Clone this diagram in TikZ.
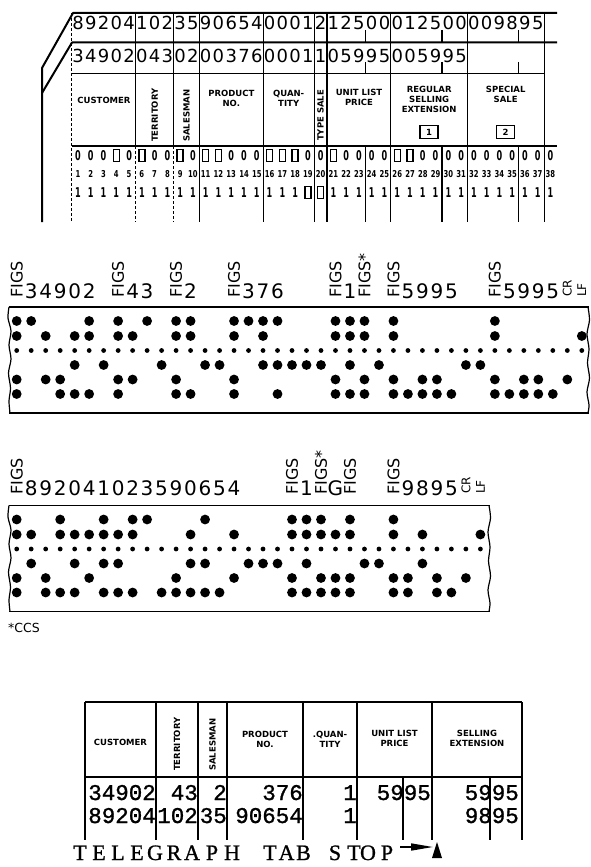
\documentclass[tikz,border=0pt]{standalone}
\usepackage{fontspec}
\usepackage{graphicx}
\setmainfont{DejaVu Sans}
\newfontfamily\lmono[FakeBold=1.2]{Liberation Mono}
\newfontfamily\lserif[FakeBold=1.0]{Liberation Serif}
\usetikzlibrary{arrows.meta}
\newcommand\tapeholes[3]{%
  \foreach \k in {1,...,#2}{\fill ({16.7+(\k-1)*14.49},{#1+43.5}) circle[radius=2.4];}%
  \foreach \pa/\pb/\pc/\pd/\pe [count=\k] in {#3}{%
    \pgfmathsetmacro\xx{16.7+(\k-1)*14.49}%
    \ifnum\pa=1 \fill (\xx,{#1+14}) circle[radius=4.9];\fi
    \ifnum\pb=1 \fill (\xx,{#1+29}) circle[radius=4.9];\fi
    \ifnum\pc=1 \fill (\xx,{#1+58}) circle[radius=4.9];\fi
    \ifnum\pd=1 \fill (\xx,{#1+72.5}) circle[radius=4.9];\fi
    \ifnum\pe=1 \fill (\xx,{#1+87}) circle[radius=4.9];\fi
  }%
}
\begin{document}
\begin{tikzpicture}[x=1pt,y=-1pt,
  edge/.style={line width=2pt,line join=round},
  thinl/.style={line width=1.1pt},
  tabl/.style={line width=1.8pt},
  carddig/.style={inner sep=0pt,anchor=base,font=\fontsize{18}{18}\selectfont},
  hdr/.style={inner sep=0pt,align=center,font=\bfseries\fontsize{8.5}{10}\selectfont},
  rhdr/.style={hdr,rotate=90,anchor=west},
  pdig/.style={inner sep=0pt,font=\bfseries\fontsize{13.5}{13.5}\selectfont},
  colnum/.style={inner sep=0pt,font=\bfseries\fontsize{9.5}{9.5}\selectfont},
  punch/.style={line width=1.5pt},
  tapelab/.style={inner sep=0pt,anchor=base,font=\fontsize{20}{20}\selectfont},
  figs/.style={inner sep=0pt,rotate=90,anchor=west,font=\fontsize{16}{16}\selectfont},
  crlf/.style={inner sep=0pt,rotate=90,anchor=west,font=\fontsize{12}{12}\selectfont},
  tabdig/.style={inner sep=0pt,anchor=base east,font=\lmono\fontsize{22.5}{22.5}\selectfont},
  teleg/.style={inner sep=0pt,anchor=base,font=\lserif\fontsize{22}{22}\selectfont},
  tapeedge/.style={line width=1.8pt},
  torn/.style={line width=1.2pt}
]
\useasboundingbox (0,0) rectangle (590,867);

% ================= punched card =================
\draw[edge] (557,13) -- (73,13) -- (42,68) -- (42,222);
\draw[edge] (557,42.5) -- (72,42.5) -- (42,93);
\draw[thinl,densely dashed] (71.6,13) -- (71.6,222);
\draw[thinl] (71.6,73.5) -- (544,73.5);
\draw[thinl] (71.6,146) -- (557,146);
\foreach \k in {5,8,10,15,19,20,25,31,37}
  \draw[thinl] ({78+(\k-0.5)*12.77},13) -- ({78+(\k-0.5)*12.77},146);
\foreach \k in {10,15,19,20,23,25,29,31,35,37}
  \draw[thinl] ({78+(\k-0.5)*12.77},146) -- ({78+(\k-0.5)*12.77},222);
\foreach \k in {5,8}
  \draw[thinl,densely dashed] ({78+(\k-0.5)*12.77},146) -- ({78+(\k-0.5)*12.77},222);
\foreach \k in {23,29,35}{
  \draw[thinl] ({78+(\k-0.5)*12.77},30) -- ({78+(\k-0.5)*12.77},42.5);
  \draw[thinl] ({78+(\k-0.5)*12.77},62) -- ({78+(\k-0.5)*12.77},73.5);
}
% card digits
\foreach \d [count=\i] in {8,9,2,0,4,1,0,2,3,5,9,0,6,5,4,0,0,0,1,2,1,2,5,0,0,0,1,2,5,0,0,0,0,9,8,9,5}
  \node[carddig] (bk\i) at ({78+(\i-1)*12.77},30) {\d};
\foreach \d [count=\i] in {3,4,9,0,2,0,4,3,0,2,0,0,3,7,6,0,0,0,1,1,0,5,9,9,5,0,0,5,9,9,5}
  \node[carddig] (fr\i) at ({78+(\i-1)*12.77},62.5) {\d};
% header labels
\node[hdr] (hcust) at (104,100) {CUSTOMER};
\node[rhdr] (hterr) at (154.7,142) {TERRITORY};
\node[rhdr] (hsales) at (186.6,142) {SALESMAN};
\node[hdr] (hprod) at (231.3,98) {PRODUCT\\NO.};
\node[hdr] (hqty) at (288.7,98) {QUAN-\\TITY};
\node[rhdr] (htype) at (320.6,141) {TYPE SALE};
\node[hdr] (hunit) at (359,97) {UNIT LIST\\PRICE};
\node[hdr] (hreg) at (429.2,99) {REGULAR\\SELLING\\EXTENSION};
\node[hdr] (hspec) at (505.7,94) {SPECIAL\\SALE};
\draw[punch] (420,125.5) rectangle (438,138.5);
\node[hdr] (box1) at (429,132) {1};
\draw[punch] (496.5,125.5) rectangle (514.5,138.5);
\node[hdr] (box2) at (505.5,132) {2};
% 0 row, numbers, 1 row
\foreach \i in {1,2,3,5,7,8,10,13,14,15,19,20,22,23,24,25,28,29,30,31,32,33,34,35,36,37,38}
  \node[pdig] (z\i) at ({78+(\i-1)*12.77},155.5) {\scalebox{0.6}[1]{0}};
\foreach \i in {4,6,9,11,12,16,17,18,21,26,27}
  \draw[punch] ({78+(\i-1)*12.77-3},149.5) rectangle ({78+(\i-1)*12.77+3},161.5);
\foreach \i in {1,...,38}
  \node[colnum] (n\i) at ({78+(\i-1)*12.77},174) {\scalebox{0.72}[1]{\i}};
\foreach \i in {1,...,18,21,22,...,38}
  \node[pdig] (o\i) at ({78+(\i-1)*12.77},192.5) {\scalebox{0.6}[1]{1}};
\foreach \i in {19,20}
  \draw[punch] ({78+(\i-1)*12.77-3},186.5) rectangle ({78+(\i-1)*12.77+3},198.5);

% ================= tape 1 =================
\draw[tapeedge] (9,307) -- (589,307);
\draw[tapeedge] (9,413) -- (589,413);
\draw[torn] plot[smooth] coordinates {(9,307) (8,318) (11,331) (9,345) (11,359) (8.5,373) (10.5,388) (9,401) (10,413)};
\draw[torn] plot[smooth] coordinates {(588,307) (589.5,320) (587,334) (589,349) (587.5,363) (589.5,378) (587,392) (589,405) (588,413)};
\tapeholes{307}{40}{1/1/0/1/1,1/0/0/0/0,0/1/0/1/0,0/0/0/1/1,0/1/1/0/1,1/1/0/0/1,0/0/1/0/0,1/1/0/1/1,0/1/0/1/0,1/0/0/0/0,0/0/1/0/0,1/1/0/1/1,1/1/0/0/1,0/0/1/0/0,0/0/1/0/0,1/1/0/1/1,1/0/0/0/0,1/1/1/0/0,1/0/1/0/1,0/0/1/0/0,0/0/1/0/0,0/0/1/0/0,1/1/0/1/1,1/1/1/0/1,1/1/0/1/1,0/0/1/0/0,1/1/0/1/1,0/0/0/0/1,0/0/0/1/1,0/0/0/1/1,0/0/0/0/1,0/0/1/0/0,0/0/1/0/0,1/1/0/1/1,0/0/0/0/1,0/0/0/1/1,0/0/0/1/1,0/0/0/0/1,0/0/0/1/0,0/1/0/0/0}
\foreach \c in {1,8,12,16,23,27,34}
  \node[figs] (fa\c) at ({16.7+(\c-1)*14.49},298) {FIGS};
\node[figs] (fa25) at ({16.7+24*14.49},298) {FIGS*};
\foreach \c/\t in {2/3,3/4,4/9,5/0,6/2,9/4,10/3,13/2,17/3,18/7,19/6,24/1,28/5,29/9,30/9,31/5,35/5,36/9,37/9,38/5}
  \node[tapelab] (da\c) at ({16.7+(\c-1)*14.49},298) {\t};
\node[crlf] (cra) at ({16.7+38*14.49},297) {CR};
\node[crlf] (lfa) at ({16.7+39*14.49},297) {LF};

% ================= tape 2 =================
\draw[tapeedge] (9,505.5) -- (490,505.5);
\draw[tapeedge] (9,611.5) -- (490,611.5);
\draw[torn] plot[smooth] coordinates {(9,505.5) (8,517) (11,530) (9,544) (11,558) (8.5,572) (10.5,587) (9,600) (10,611.5)};
\draw[torn] plot[smooth] coordinates {(489,505.5) (490.5,518) (488,532) (490,547) (488.5,561) (490.5,576) (488,590) (490,603) (489,611.5)};
\tapeholes{505.5}{33}{1/1/0/1/1,0/1/1/0/0,0/0/0/1/1,1/1/0/0/1,0/1/1/0/1,0/1/0/1/0,1/1/1/0/1,0/1/1/0/1,1/1/0/0/1,1/0/0/0/0,0/0/0/0/1,0/0/0/1/1,0/1/1/0/1,1/0/1/0/1,0/0/0/0/1,0/1/0/1/0,0/0/1/0/0,0/0/1/0/0,0/0/1/0/0,1/1/0/1/1,1/1/1/0/1,1/1/0/1/1,0/1/0/1/1,1/1/0/1/1,0/0/1/0/0,0/0/1/0/0,1/1/0/1/1,0/0/0/1/1,0/1/1/0/0,0/0/0/1/1,0/0/0/0/1,0/0/0/1/0,0/1/0/0/0}
\foreach \c in {1,20,24,27}
  \node[figs] (fb\c) at ({16.7+(\c-1)*14.49},495) {FIGS};
\node[figs] (fb22) at ({16.7+21*14.49},495) {FIGS*};
\foreach \c/\t in {2/8,3/9,4/2,5/0,6/4,7/1,8/0,9/2,10/3,11/5,12/9,13/0,14/6,15/5,16/4,21/1,23/G,28/9,29/8,30/9,31/5}
  \node[tapelab] (db\c) at ({16.7+(\c-1)*14.49},495) {\t};
\node[crlf] (crb) at ({16.7+31*14.49},494) {CR};
\node[crlf] (lfb) at ({16.7+32*14.49},494) {LF};

\node[inner sep=0pt,anchor=west,font=\fontsize{12.5}{12.5}\selectfont] (ccs) at (8,628) {*CCS};

% ================= table =================
\draw[tabl] (85,702) -- (522,702);
\draw[tabl] (85,777) -- (522,777);
\foreach \x in {85,156,198,227,303,357,432,522}
  \draw[tabl] (\x,702) -- (\x,840);
\foreach \x in {403,490}
  \draw[tabl] (\x,777) -- (\x,840);
\node[hdr] (tcust) at (120.5,742) {CUSTOMER};
\node[rhdr] (tterr) at (177,771) {TERRITORY};
\node[rhdr] (tsales) at (212.5,771) {SALESMAN};
\node[hdr] (tprod) at (265,739) {PRODUCT\\NO.};
\node[hdr] (tqty) at (330,739) {.QUAN-\\TITY};
\node[hdr] (tunit) at (394.5,738) {UNIT LIST\\PRICE};
\node[hdr] (tsell) at (477,738) {SELLING\\EXTENSION};
\foreach \x/\t [count=\i] in {156/34902,198/43,227/2,303/376,357/1,431/5995,519/5995}
  \node[tabdig] (ra\i) at (\x,800) {\t};
\foreach \x/\t [count=\i] in {156/89204,198/102,227/35,303/90654,357/1,519/9895}
  \node[tabdig] (rb\i) at (\x,823) {\t};

% ================= telegraph tab stop =================
\foreach \l/\x [count=\i] in {T/80,E/99,L/118,E/137,G/155,R/174,A/192,P/212,H/232,T/270,A/286.5,B/303.5,S/335,T/354,O/368,P/387}
  \node[teleg] (tl\i) at (\x,860) {\l};
\coordinate (arrS) at (400,847);
\coordinate (triW) at (433,847);
\draw[line width=1.6pt,-{Triangle[length=22pt,width=7pt]}] (arrS) -- (triW);
\fill (432,858) -- (437,842) -- (442,858) -- cycle;
\end{tikzpicture}
\end{document}
